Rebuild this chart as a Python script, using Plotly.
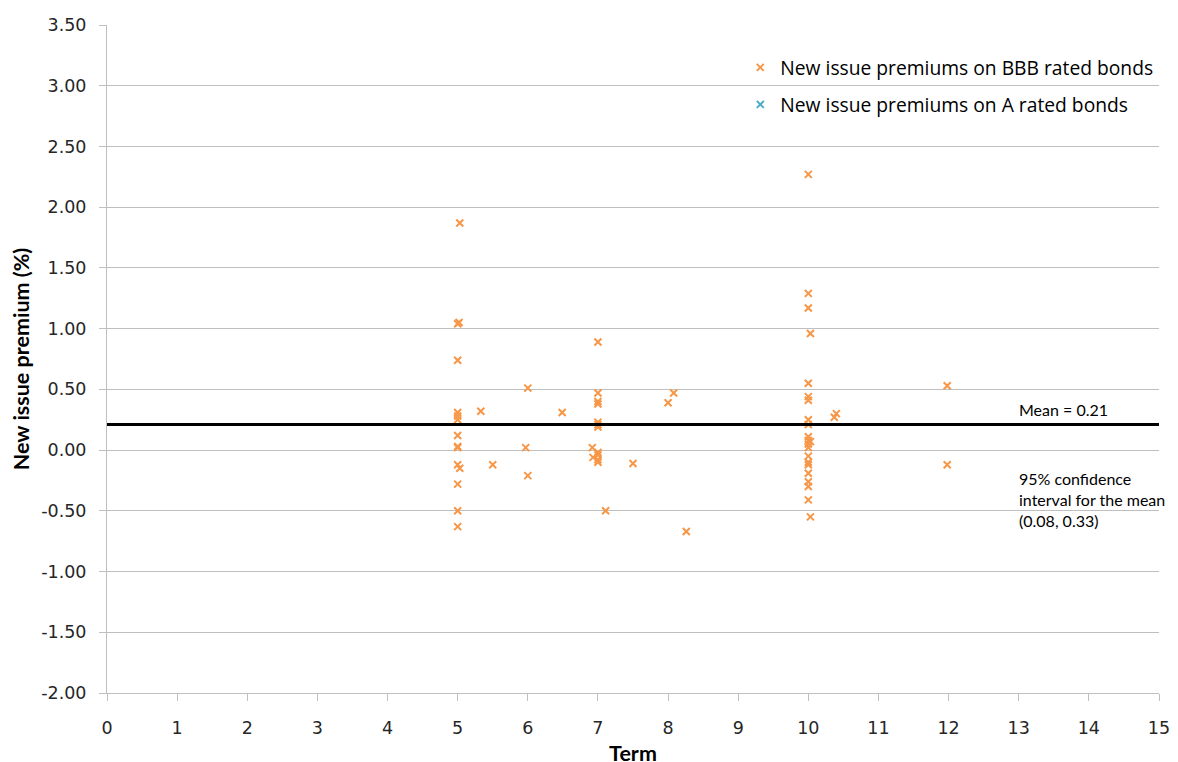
import plotly.graph_objects as go

# ---- data ----
bbb_term = [5.03, 5.02, 5.0, 5.0, 5.0, 5.0, 5.0, 5.0, 5.0, 5.0, 5.0, 5.03, 5.0, 5.0, 5.0,
            5.33, 5.5, 5.97, 6.0, 6.0, 6.49, 6.92, 6.93,
            7.0, 7.0, 7.0, 7.0, 7.0, 7.0, 7.0, 7.0, 7.0, 7.0, 7.0,
            7.11, 7.5, 8.0, 8.08, 8.26,
            10.0, 10.0, 10.0, 10.0, 10.0, 10.0, 10.0, 10.0, 10.0, 10.0, 10.0, 10.0,
            10.0, 10.0, 10.0, 10.0, 10.0, 10.0, 10.0,
            10.03, 10.03, 10.03, 10.37, 10.4, 11.98, 11.98]
bbb_premium = [1.87, 1.05, 1.04, 0.74, 0.31, 0.28, 0.25, 0.12, 0.03, 0.02, -0.12, -0.15, -0.28, -0.50, -0.63,
               0.32, -0.12, 0.02, 0.51, -0.21, 0.31, 0.02, -0.06,
               0.89, 0.47, 0.40, 0.38, 0.23, 0.21, 0.19, -0.02, -0.04, -0.08, -0.10,
               -0.50, -0.11, 0.39, 0.47, -0.67,
               2.27, 1.29, 1.17, 0.55, 0.44, 0.41, 0.25, 0.21, 0.11, 0.08, 0.05, 0.02,
               -0.05, -0.10, -0.12, -0.19, -0.26, -0.30, -0.41,
               0.96, 0.07, -0.55, 0.27, 0.30, 0.53, -0.12]
a_term = []
a_premium = []

mean_value = 0.21
ci_low, ci_high = 0.08, 0.33
x_range = [0, 15]
y_range = [-2.0, 3.5]
x_ticks = list(range(0, 16))
y_ticks = [-2.0, -1.5, -1.0, -0.5, 0.0, 0.5, 1.0, 1.5, 2.0, 2.5, 3.0, 3.5]
y_tick_labels = [f"{v:.2f}" for v in y_ticks]

ORANGE = "#F79646"
BLUE = "#4BACC6"
AXIS_GRAY = "#bfbfbf"
TICK_FONT = dict(family="DejaVu Sans", size=17.5, color="#262626")
TITLE_FONT = dict(family="Lato", size=21.5, color="#000000")
NOTE_FONT = dict(family="Lato", size=16, color="#000000")

fig = go.Figure()
fig.add_trace(go.Scatter(
    x=bbb_term, y=bbb_premium, mode="markers",
    name="New issue premiums on BBB rated bonds", legendgroup="bbb",
    marker=dict(symbol="x-thin", size=7, color=ORANGE, line=dict(color=ORANGE, width=2)),
))
fig.add_trace(go.Scatter(
    x=a_term if a_term else [None], y=a_premium if a_premium else [None], mode="markers",
    name="New issue premiums on A rated bonds", legendgroup="a",
    marker=dict(symbol="x-thin", size=7, color=BLUE, line=dict(color=BLUE, width=2)),
))
# mean line
fig.add_trace(go.Scatter(
    x=x_range, y=[mean_value, mean_value], mode="lines",
    line=dict(color="black", width=3), showlegend=False, hoverinfo="skip",
))

fig.add_annotation(x=12.97, y=mean_value, text=f"Mean = {mean_value:.2f}", showarrow=False,
                   xanchor="left", yanchor="bottom", yshift=4, font=NOTE_FONT)
fig.add_annotation(x=12.97, y=-0.41,
                   text=f"95% confidence<br>interval for the mean<br>({ci_low:.2f}, {ci_high:.2f})",
                   showarrow=False, xanchor="left", yanchor="middle", align="left", font=NOTE_FONT)

# the page body adds an 8px margin, so the figure is sized/offset to land on the 1178x762 window
fig.update_layout(
    width=1170, height=760,
    margin=dict(l=99, r=19, t=17, b=75),
    paper_bgcolor="white", plot_bgcolor="white",
    showlegend=True,
    legend=dict(x=0.602, y=0.965, xanchor="left", yanchor="top", bgcolor="rgba(0,0,0,0)",
                font=dict(family="Open Sans", size=19.25, color="#000"), tracegroupgap=9),
)
fig.update_xaxes(range=x_range, tickvals=x_ticks, showgrid=False, zeroline=False, automargin=False,
                 showline=True, linecolor=AXIS_GRAY, linewidth=1,
                 ticks="outside", ticklen=7, tickcolor=AXIS_GRAY, ticklabelstandoff=12,
                 tickfont=TICK_FONT,
                 title=dict(text="<b>Term</b>", font=TITLE_FONT, standoff=8))
fig.update_yaxes(range=y_range, tickvals=y_ticks, ticktext=y_tick_labels, showgrid=True,
                 gridcolor=AXIS_GRAY, gridwidth=1, zeroline=False, automargin=False,
                 showline=True, linecolor=AXIS_GRAY, linewidth=1,
                 ticks="outside", ticklen=7, tickcolor=AXIS_GRAY, ticklabelstandoff=9,
                 tickfont=TICK_FONT,
                 title=dict(text="<b>New issue premium (%)</b>", font=TITLE_FONT, standoff=12))

fig.write_html("out.html")
